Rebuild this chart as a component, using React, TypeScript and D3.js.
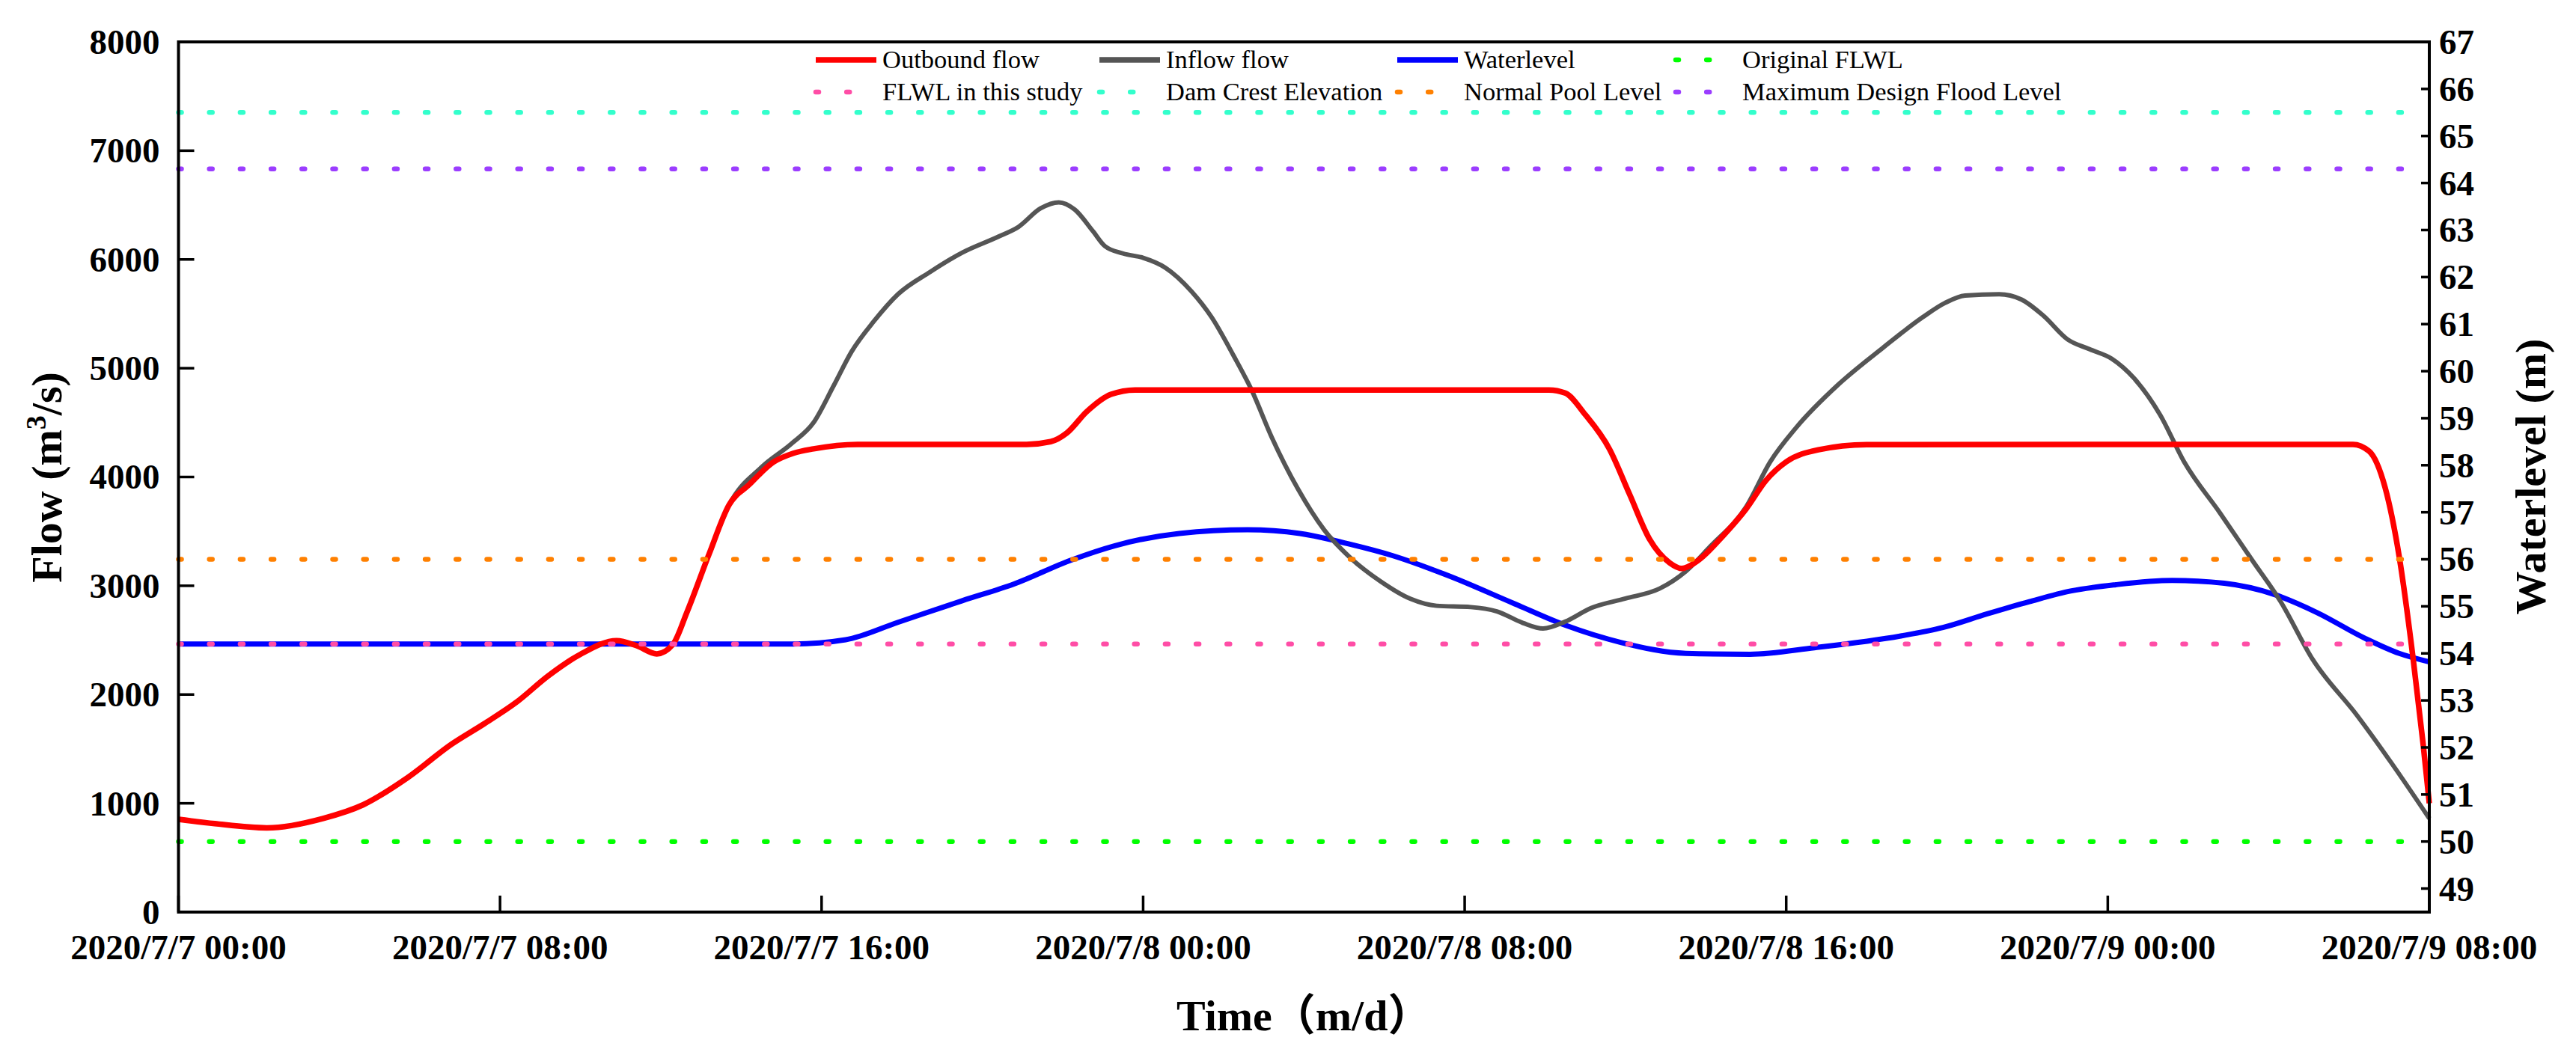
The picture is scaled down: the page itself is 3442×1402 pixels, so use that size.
import React from 'react';
import * as d3 from 'd3';

// hours since 2020/7/7 00:00 -> value
const outboundFlow: [number, number][] = [
  [0, 853], [0.9, 813], [2.2, 774], [3.6, 861], [4.6, 987], [5.7, 1236], [6.8, 1545], [7.6, 1730],
  [8.4, 1927], [9.2, 2172], [10, 2370], [10.9, 2496], [11.4, 2449], [11.9, 2374], [12.3, 2460],
  [12.65, 2757], [13.2, 3290], [13.7, 3744], [14.2, 3930], [14.8, 4136], [15.3, 4218], [15.8, 4259],
  [16.9, 4300], [21.1, 4300], [21.7, 4325], [22.1, 4404], [22.6, 4602], [23.2, 4760], [23.8, 4800],
  [34.1, 4800], [34.5, 4772], [35, 4573], [35.6, 4258], [36.1, 3843], [36.6, 3428], [37.1, 3211],
  [37.4, 3159], [37.8, 3231], [38.45, 3468], [39, 3705], [39.5, 3970], [40, 4139], [40.8, 4250],
  [42, 4298], [54.1, 4300], [54.5, 4238], [54.9, 3903], [55.25, 3270], [55.6, 2322], [55.85, 1532],
  [56, 1000],
];

const inflowFlow: [number, number][] = [
  [0, 853], [0.9, 813], [2.2, 774], [3.6, 861], [4.6, 987], [5.7, 1236], [6.8, 1545], [7.6, 1730],
  [8.4, 1927], [9.2, 2172], [10, 2370], [10.9, 2496], [11.4, 2449], [11.9, 2374], [12.3, 2460],
  [12.65, 2757], [13.2, 3290], [13.7, 3744], [14.5, 4088], [15.25, 4306], [15.8, 4500], [16.3, 4839],
  [16.75, 5155], [17.3, 5431], [17.9, 5680], [18.7, 5885], [19.5, 6063], [20.4, 6210], [20.9, 6300],
  [21.45, 6470], [21.9, 6525], [22.3, 6458], [22.75, 6260], [23.05, 6122], [23.5, 6055], [24, 6015],
  [24.55, 5925], [25.2, 5708], [25.7, 5471], [26.25, 5116], [26.7, 4799], [27.2, 4365], [27.85, 3891],
  [28.5, 3516], [29.15, 3259], [29.9, 3042], [30.65, 2880], [31.3, 2816], [32.15, 2804], [32.8, 2765],
  [33.45, 2658], [33.95, 2607], [34.5, 2670], [35.15, 2796], [36, 2883], [36.85, 2974], [37.5, 3132],
  [38.1, 3358], [39, 3724], [39.6, 4139], [40.25, 4455], [41.3, 4851], [42.4, 5186], [43.4, 5470],
  [43.95, 5600], [44.45, 5668], [45.3, 5680], [45.85, 5632], [46.4, 5482], [47, 5265], [47.55, 5174],
  [48.1, 5087], [48.65, 4909], [49.3, 4573], [49.9, 4139], [50.8, 3665], [51.6, 3231], [52.3, 2855],
  [53.1, 2322], [54.2, 1809], [55.05, 1375], [56, 861],
];

const waterLevel: [number, number][] = [
  [0, 54.2], [15.3, 54.2], [16.6, 54.29], [17.9, 54.66], [19.5, 55.12], [20.8, 55.48], [22.2, 55.98],
  [23.3, 56.29], [24.9, 56.55], [26.6, 56.63], [27.9, 56.55], [29.15, 56.32], [30.2, 56.08],
  [31.6, 55.65], [33.2, 55.07], [34.5, 54.6], [35.9, 54.23], [37.5, 54.0], [39.1, 53.98],
  [40.7, 54.12], [42.85, 54.37], [43.9, 54.55], [45, 54.84], [46.05, 55.1], [47.1, 55.33],
  [48.2, 55.46], [49.6, 55.55], [50.9, 55.49], [52.15, 55.25], [53.2, 54.87], [54.4, 54.32],
  [55.25, 54.0], [56, 53.82],
];

const refNames = ['Original FLWL', 'FLWL in this study', 'Dam Crest Elevation', 'Normal Pool Level', 'Maximum Design Flood Level'];
const refLevels = [50.0, 54.2, 65.5, 56.0, 64.3];
const refColors = ['#00FF00', '#FF4DA6', '#33FFCC', '#FF8000', '#9B3DFF'];

const timeTicks = [0, 8, 16, 24, 32, 40, 48, 56];
const timeLabels = [
  '2020/7/7 00:00', '2020/7/7 08:00', '2020/7/7 16:00', '2020/7/8 00:00',
  '2020/7/8 08:00', '2020/7/8 16:00', '2020/7/9 00:00', '2020/7/9 08:00',
];
const flowTicks = [0, 1000, 2000, 3000, 4000, 5000, 6000, 7000, 8000];
const levelTicks = d3.range(49, 68);

const W = 3442;
const H = 1402;
const L = 238.5;
const R = 3246;
const T = 56;
const B = 1219;

const FONT = "'Liberation Serif', 'Times New Roman', 'Noto Sans CJK SC', serif";
const DOTS = '4 37.2';

const App = () => {
  const x = d3.scaleLinear().domain([0, 56]).range([L, R]);
  const yFlow = d3.scaleLinear().domain([0, 8000]).range([B, T]);
  const yLevel = d3.scaleLinear().domain([48.5, 67]).range([B, T]);

  const flowLine = d3
    .line<[number, number]>()
    .curve(d3.curveMonotoneX)
    .x((d) => x(d[0]))
    .y((d) => yFlow(d[1]));
  const levelLine = d3
    .line<[number, number]>()
    .curve(d3.curveMonotoneX)
    .x((d) => x(d[0]))
    .y((d) => yLevel(d[1]));

  const legend = [
    { name: 'Outbound flow', color: '#FF0000', dotted: false, width: 7.5 },
    { name: 'Inflow flow', color: '#555555', dotted: false, width: 7.5 },
    { name: 'Waterlevel', color: '#0000FF', dotted: false, width: 7.5 },
    ...refNames.map((n, i) => ({ name: n, color: refColors[i], dotted: true, width: 6.5 })),
  ];
  const legendCols = [1090, 1469, 1867, 2239];
  const legendRows = [80, 123];

  return (
    <svg
      width={W}
      height={H}
      style={{ position: 'absolute', left: 0, top: 0, background: '#fff' }}
      fontFamily={FONT}
    >
      <rect x={0} y={0} width={W} height={H} fill="#fff" />

      {/* series */}
      <path d={levelLine(waterLevel) ?? ''} fill="none" stroke="#0000FF" strokeWidth={7} />
      <path d={flowLine(inflowFlow) ?? ''} fill="none" stroke="#555555" strokeWidth={6} />
      <path d={flowLine(outboundFlow) ?? ''} fill="none" stroke="#FF0000" strokeWidth={7.5} />

      {/* reference levels */}
      {refLevels.map((v, i) => (
        <line
          key={refNames[i]}
          x1={L}
          x2={R}
          y1={yLevel(v)}
          y2={yLevel(v)}
          stroke={refColors[i]}
          strokeWidth={6.5}
          strokeLinecap="round"
          strokeDasharray={DOTS}
        />
      ))}

      {/* frame */}
      <rect x={L} y={T} width={R - L} height={B - T} fill="none" stroke="#000" strokeWidth={4} />

      {/* left axis */}
      {flowTicks.map((t) => (
        <g key={`f${t}`}>
          <line x1={L} x2={L + 21} y1={yFlow(t)} y2={yFlow(t)} stroke="#000" strokeWidth={3.5} />
          <text x={L - 25} y={yFlow(t)} dy="0.34em" textAnchor="end" fontSize={47} fontWeight="bold">
            {t}
          </text>
        </g>
      ))}

      {/* right axis */}
      {levelTicks.map((t) => (
        <g key={`l${t}`}>
          <line x1={R - 11} x2={R} y1={yLevel(t)} y2={yLevel(t)} stroke="#000" strokeWidth={3.5} />
          <text x={R + 13} y={yLevel(t)} dy="0.34em" textAnchor="start" fontSize={47} fontWeight="bold">
            {t}
          </text>
        </g>
      ))}

      {/* bottom axis */}
      {timeTicks.map((t, i) => (
        <g key={`t${t}`}>
          <line x1={x(t)} x2={x(t)} y1={B} y2={B - 22} stroke="#000" strokeWidth={3.5} />
          <text x={x(t)} y={1282} textAnchor="middle" fontSize={47} fontWeight="bold">
            {timeLabels[i]}
          </text>
        </g>
      ))}

      {/* axis titles */}
      <text transform="translate(82,638) rotate(-90)" textAnchor="middle" fontSize={58} fontWeight="bold">
        Flow (m<tspan baselineShift="super" fontSize={38}>3</tspan>/s)
      </text>
      <text transform="translate(3401,637) rotate(-90)" textAnchor="middle" fontSize={58} fontWeight="bold">
        Waterlevel (m)
      </text>
      <text x={(L + R) / 2} y={1377} textAnchor="middle" fontSize={58} fontWeight="bold">
        Time（m/d）
      </text>

      {/* legend */}
      {legend.map((d, i) => {
        const cx = legendCols[i % 4];
        const cy = legendRows[Math.floor(i / 4)];
        return (
          <g key={d.name}>
            <line
              x1={cx}
              x2={cx + 81}
              y1={cy}
              y2={cy}
              stroke={d.color}
              strokeWidth={d.width}
              strokeLinecap={d.dotted ? 'round' : 'butt'}
              strokeDasharray={d.dotted ? DOTS : undefined}
            />
            <text x={cx + 89} y={cy} dy="0.32em" fontSize={34.5}>
              {d.name}
            </text>
          </g>
        );
      })}
    </svg>
  );
};

export default App;
